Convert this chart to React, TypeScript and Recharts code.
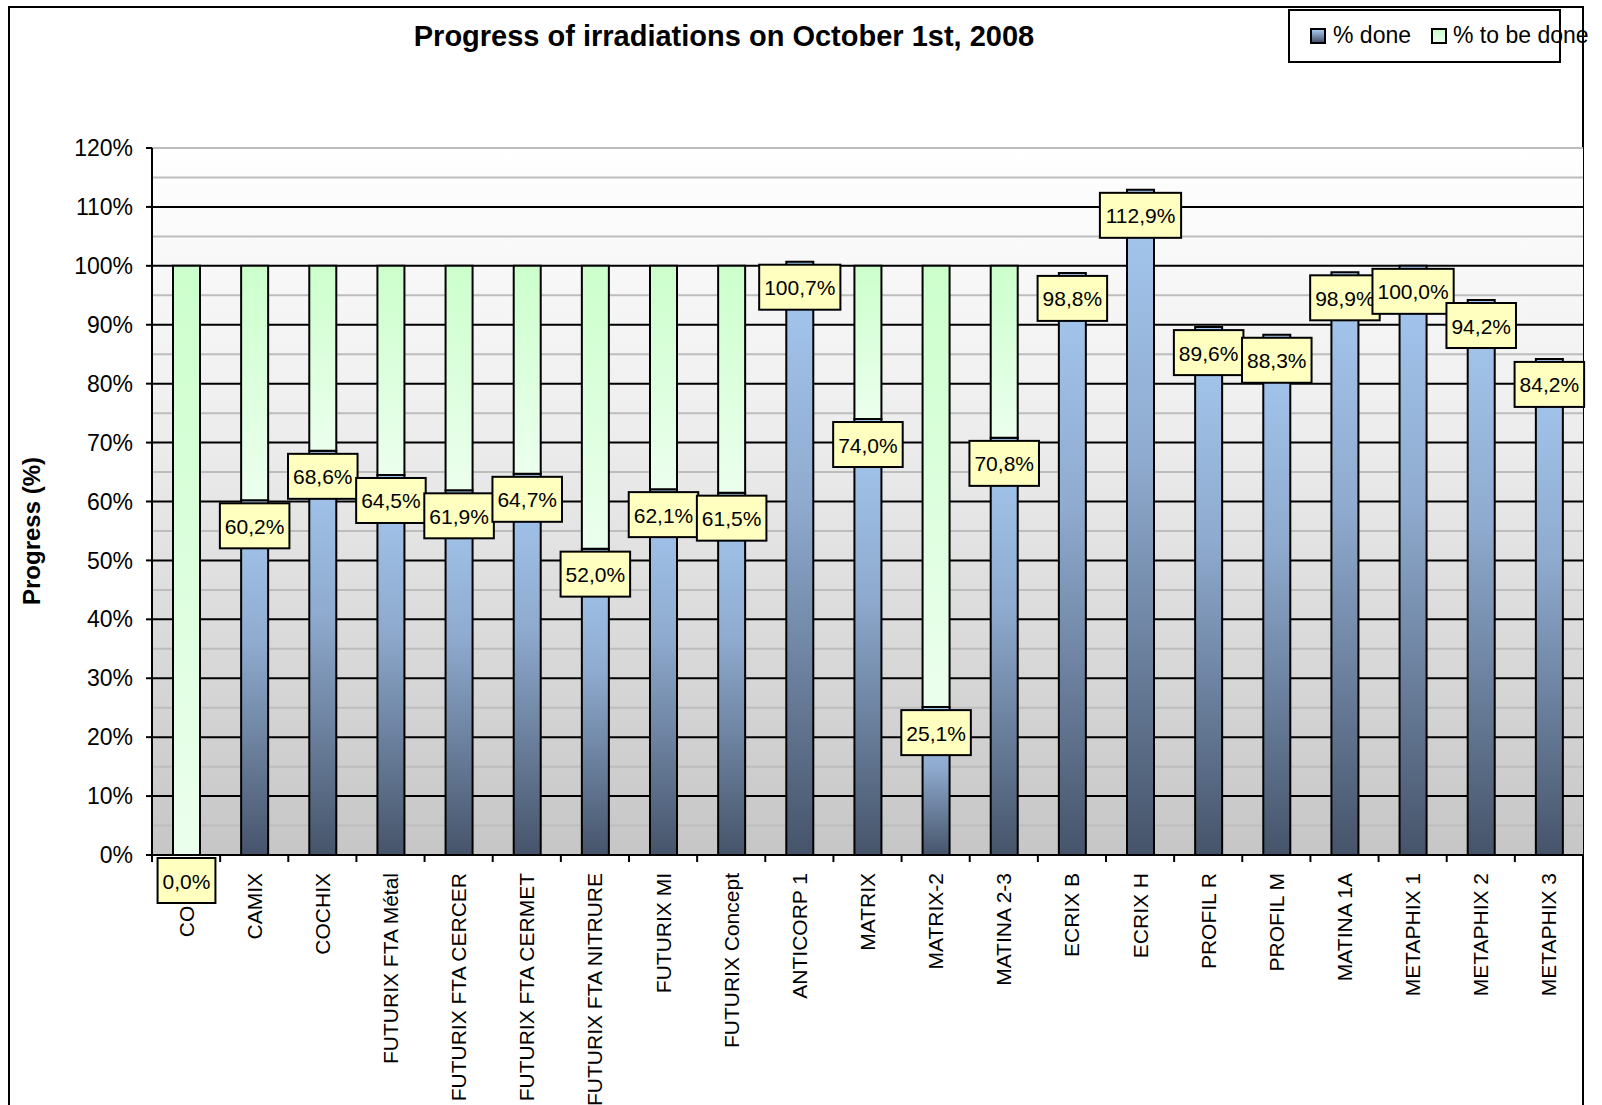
import React from 'react';
import { BarChart, Bar, XAxis, YAxis, CartesianGrid, LabelList } from 'recharts';

const categories = [
  'COFIX', 'CAMIX', 'COCHIX', 'FUTURIX FTA Métal', 'FUTURIX FTA CERCER',
  'FUTURIX FTA CERMET', 'FUTURIX FTA NITRURE', 'FUTURIX MI', 'FUTURIX Concept',
  'ANTICORP 1', 'MATRIX', 'MATRIX-2', 'MATINA 2-3', 'ECRIX B', 'ECRIX H',
  'PROFIL R', 'PROFIL M', 'MATINA 1A', 'METAPHIX 1', 'METAPHIX 2', 'METAPHIX 3',
];

const doneValues = [
  0.0, 60.2, 68.6, 64.5, 61.9, 64.7, 52.0, 62.1, 61.5, 100.7, 74.0,
  25.1, 70.8, 98.8, 112.9, 89.6, 88.3, 98.9, 100.0, 94.2, 84.2,
];

const todoValues = [
  100.0, 39.8, 31.4, 35.5, 38.1, 35.3, 48.0, 37.9, 38.5, 0, 26.0,
  74.9, 29.2, 0, 0, 0, 0, 0, 0, 0, 0,
];

const yTicks = [0, 10, 20, 30, 40, 50, 60, 70, 80, 90, 100, 110, 120];
const majorLines = [10, 20, 30, 40, 50, 60, 70, 80, 90, 100, 110];
const minorLines = [5, 15, 25, 35, 45, 55, 65, 75, 85, 95, 105, 115, 120];

const data = categories.map((name, i) => ({
  name,
  done: doneValues[i],
  todo: todoValues[i],
}));

const FONT = 'Arial, "Liberation Sans", sans-serif';

const fmtPct = (v: number) => v.toFixed(1).replace('.', ',') + '%';

// rough Arial width of a label like "98,8%"
const labelWidth = (s: string, fs: number) => {
  let w = 0;
  for (const ch of s) {
    if (ch === ',') w += 0.278;
    else if (ch === '%') w += 0.889;
    else w += 0.556;
  }
  return w * fs;
};

const DoneLabel = (props: any) => {
  const { x, y, width, height, value } = props;
  const cx = x + width / 2;
  const txt = fmtPct(Number(value));
  const w = labelWidth(txt, 21) + 10;
  // zero bars get a 1px min height, label still starts at the bar's top
  const top = (Number(value) === 0 ? y + height : y) + 3;
  return (
    <g>
      <rect x={cx - w / 2} y={top} width={w} height={45} fill="#ffffc0" stroke="#000" strokeWidth={2} />
      <text x={cx} y={top + 23} textAnchor="middle" dominantBaseline="central" fontSize={21} fill="#000" fontFamily={FONT}>
        {txt}
      </text>
    </g>
  );
};

const CategoryTick = (props: any) => {
  const { x, y, payload, index } = props;
  const off = payload.offset || 0;
  return (
    <g>
      <line x1={x - off} y1={y} x2={x - off} y2={y + 7} stroke="#000" strokeWidth={2} />
      {index === categories.length - 1 && (
        <line x1={x + off} y1={y} x2={x + off} y2={y + 7} stroke="#000" strokeWidth={2} />
      )}
      <text
        x={x}
        y={y + 18}
        transform={`rotate(-90, ${x}, ${y + 18})`}
        textAnchor="end"
        dominantBaseline="central"
        fontSize={21}
        fill="#000"
        fontFamily={FONT}
      >
        {payload.value}
      </text>
    </g>
  );
};

const App: React.FC = () => {
  return (
    <div
      style={{
        position: 'absolute',
        left: 0,
        top: 0,
        width: 1602,
        height: 1105,
        overflow: 'hidden',
        background: '#fff',
        fontFamily: FONT,
      }}
    >
      <div
        style={{
          position: 'absolute',
          left: 8,
          top: 6,
          width: 1576,
          height: 1120,
          border: '2px solid #000',
          boxSizing: 'border-box',
        }}
      />
      <div
        style={{
          position: 'absolute',
          left: 0,
          width: 1448,
          top: 18,
          textAlign: 'center',
          fontSize: 29,
          fontWeight: 'bold',
          lineHeight: '36px',
        }}
      >
        Progress of irradiations on October 1st, 2008
      </div>
      <div
        style={{
          position: 'absolute',
          left: 32,
          top: 531,
          transform: 'translate(-50%, -50%) rotate(-90deg)',
          fontSize: 24,
          fontWeight: 'bold',
          whiteSpace: 'nowrap',
        }}
      >
        Progress (%)
      </div>

      <BarChart
        width={1602}
        height={1105}
        data={data}
        margin={{ top: 148, right: 19, bottom: 20, left: 52 }}
        barSize={27}
        style={{ position: 'absolute', left: 0, top: 0 }}
      >
        <defs>
          <linearGradient id="plotBg" x1="0" y1="0" x2="0" y2="1">
            <stop offset="0" stopColor="#ffffff" />
            <stop offset="0.35" stopColor="#f0f0f0" />
            <stop offset="1" stopColor="#c6c6c6" />
          </linearGradient>
          <linearGradient id="doneFill" x1="0" y1="0" x2="0" y2="1">
            <stop offset="0" stopColor="#a6c9f1" />
            <stop offset="0.4" stopColor="#8fabcf" />
            <stop offset="1" stopColor="#46546a" />
          </linearGradient>
          <linearGradient id="todoFill" x1="0" y1="0" x2="0" y2="1">
            <stop offset="0" stopColor="#ccffcc" />
            <stop offset="1" stopColor="#ecffee" />
          </linearGradient>
        </defs>
        <CartesianGrid
          vertical={false}
          fill="url(#plotBg)"
          stroke="#bdbdbd"
          strokeWidth={2}
          horizontalValues={minorLines}
        />
        <CartesianGrid
          vertical={false}
          stroke="#000"
          strokeWidth={2}
          horizontalValues={majorLines}
        />
        <XAxis
          dataKey="name"
          interval={0}
          tickLine={false}
          tickSize={0}
          tickMargin={0}
          height={230}
          axisLine={{ stroke: '#000', strokeWidth: 2 }}
          tick={<CategoryTick />}
        />
        <YAxis
          type="number"
          domain={[0, 120]}
          ticks={yTicks}
          interval={0}
          width={100}
          tickSize={6}
          tickMargin={13}
          tickFormatter={(v: number) => `${v}%`}
          axisLine={{ stroke: '#000', strokeWidth: 2 }}
          tickLine={{ stroke: '#000', strokeWidth: 2 }}
          tick={{ fill: '#000', fontSize: 23, fontFamily: FONT }}
        />
        <Bar
          dataKey="done"
          stackId="s"
          fill="url(#doneFill)"
          stroke="#000"
          strokeWidth={2}
          minPointSize={(v: any, i: number) => (doneValues[i] === 0 ? 1 : 0)}
          isAnimationActive={false}
        >
          <LabelList dataKey="done" content={<DoneLabel />} />
        </Bar>
        <Bar dataKey="todo" stackId="s" fill="url(#todoFill)" stroke="#000" strokeWidth={2} isAnimationActive={false} />
      </BarChart>

      <div
        style={{
          position: 'absolute',
          left: 1288,
          top: 9,
          width: 273,
          height: 54,
          border: '2px solid #000',
          boxSizing: 'border-box',
          background: '#fff',
        }}
      />
      {[
        { label: '% done', fill: 'linear-gradient(#a6c9f1, #46546a)', left: 1310, textLeft: 1333 },
        { label: '% to be done', fill: 'linear-gradient(#ccffcc, #ecffee)', left: 1431, textLeft: 1453 },
      ].map((it) => (
        <React.Fragment key={it.label}>
          <div
            style={{
              position: 'absolute',
              left: it.left,
              top: 28,
              width: 16,
              height: 16,
              border: '2px solid #000',
              boxSizing: 'border-box',
              background: it.fill,
            }}
          />
          <div
            style={{
              position: 'absolute',
              left: it.textLeft,
              top: 20,
              fontSize: 23,
              lineHeight: '30px',
              whiteSpace: 'nowrap',
            }}
          >
            {it.label}
          </div>
        </React.Fragment>
      ))}
    </div>
  );
};

export default App;
